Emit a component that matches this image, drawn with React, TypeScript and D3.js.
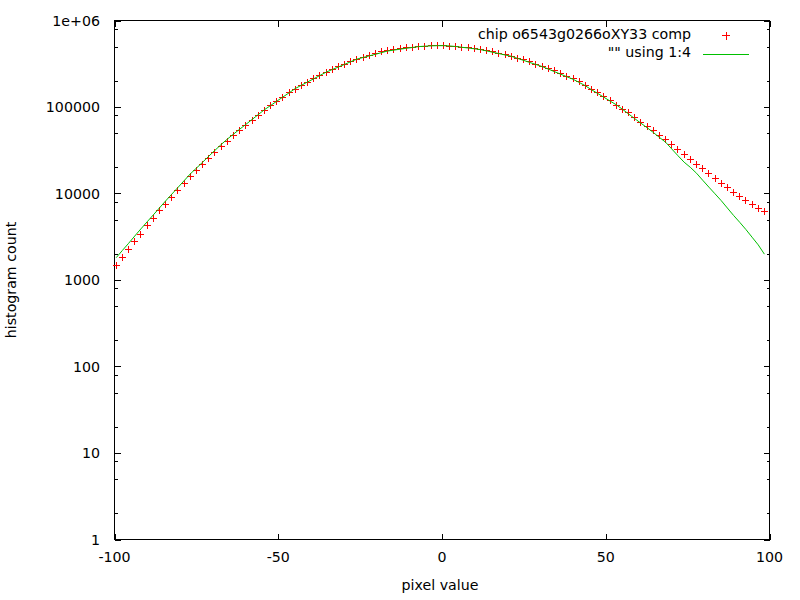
import * as d3 from 'd3';

// bin centres (pixel value) of the histogram
const pixelValues = [
  -99.48, -97.6, -95.71, -93.83, -91.94, -90.06, -88.17, -86.29, -84.4, -82.52,
  -80.63, -78.75, -76.86, -74.98, -73.09, -71.21, -69.32, -67.44, -65.55, -63.67,
  -61.78, -59.9, -58.01, -56.13, -54.24, -52.36, -50.47, -48.59, -46.7, -44.82,
  -42.93, -41.05, -39.16, -37.28, -35.39, -33.51, -31.62, -29.74, -27.85, -25.97,
  -24.08, -22.2, -20.31, -18.43, -16.54, -14.66, -12.77, -10.89, -9.0, -7.12,
  -5.23, -3.35, -1.46, 0.42, 2.31, 4.19, 6.08, 7.96, 9.85, 11.73,
  13.62, 15.5, 17.39, 19.27, 21.16, 23.04, 24.93, 26.81, 28.7, 30.58,
  32.47, 34.35, 36.24, 38.12, 40.01, 41.89, 43.78, 45.66, 47.55, 49.43,
  51.32, 53.2, 55.09, 56.97, 58.86, 60.74, 62.63, 64.51, 66.4, 68.28,
  70.17, 72.05, 73.94, 75.82, 77.71, 79.59, 81.48, 83.36, 85.25, 87.13,
  89.02, 90.9, 92.79, 94.67, 96.56, 98.44,
];

// "chip o6543g0266oXY33 comp" (red crosses)
const chipCounts = [
  1485, 1822, 2254, 2811, 3360, 4223, 5143, 6362, 7521, 8991,
  10830, 12910, 15550, 18440, 21630, 25580, 29770, 34550, 39470, 46300,
  52890, 61070, 69010, 78790, 90030, 102800, 115600, 129650, 145300, 160400,
  178400, 193200, 213200, 230900, 250000, 273000, 290200, 309400, 335100, 356200,
  368700, 388900, 414500, 432500, 444200, 461100, 473500, 481200, 490200, 499400,
  503400, 507500, 512900, 507500, 503400, 499400, 490200, 481200, 473500, 461100,
  448900, 432500, 417800, 403600, 385800, 365900, 349600, 331500, 311900, 293300,
  278200, 260900, 240900, 226600, 210900, 196900, 178400, 159500, 146100, 133100,
  117500, 105300, 94200, 85350, 76550, 66640, 59930, 53590, 47170, 41840,
  36930, 32320, 28460, 24710, 21630, 19450, 17030, 14910, 13050, 11600,
  10270, 9307, 8300, 7461, 6766, 6131,
];

// "" using 1:4 (green line)
const column4Counts = [
  1812, 2195, 2652, 3220, 3899, 4697, 5644, 6800, 8194, 9815,
  11730, 14060, 16850, 19660, 23000, 26980, 31570, 36830, 42530, 48570,
  55340, 62860, 71610, 81560, 92940, 103900, 116500, 130300, 145700, 163400,
  178400, 194700, 212100, 231500, 252700, 270900, 290200, 311100, 334200, 358100,
  373700, 389900, 406800, 425700, 444200, 455000, 466000, 477300, 487500, 499400,
  504700, 508800, 511500, 511500, 507500, 500700, 490200, 481200, 471000, 461100,
  445400, 429100, 414500, 399400, 385800, 364900, 345900, 327100, 310200, 293300,
  274500, 256100, 239700, 223700, 209300, 192200, 176000, 158200, 143400, 129650,
  117200, 106200, 94190, 83130, 73360, 64930, 57590, 50820, 44480, 39150,
  32680, 27340, 23000, 20080, 17160, 14250, 11860, 9920, 8279, 6800,
  5585, 4648, 3838, 3127, 2548, 1990,
];

const xTicks = [-100, -50, 0, 50, 100];
const yTicks = [1, 10, 100, 1000, 10000, 100000, 1000000];
const yTickLabels = ['1', '10', '100', '1000', '10000', '100000', '1e+06'];
const yMinorSteps = [2, 5, 8];

const legendLabels = ['chip o6543g0266oXY33 comp', '"" using 1:4'];

export default function App() {
  const width = 800;
  const height = 600;
  const left = 114.5, right = 769.5, top = 20.5, bottom = 539.5;
  const font = "'DejaVu Sans', sans-serif";

  const x = d3.scaleLinear().domain([-100, 100]).range([left, right]);
  const y = d3.scaleLog().domain([1, 1e6]).range([bottom, top]);

  const minorTicks = yTicks.slice(0, -1).flatMap(d => yMinorSteps.map(m => d * m));

  const line = d3.line<number>()
    .x((_, i) => x(pixelValues[i]))
    .y(d => y(d));

  const majorLen = 6;
  const minorLen = 3;
  const px = (v: number) => Math.round(v) + 0.5;

  return (
    <svg width={width} height={height} style={{ position: 'absolute', left: 0, top: 0, background: '#fff' }}
      fontFamily={font} fontSize={14.2}>
      <rect x={0} y={0} width={width} height={height} fill="#fff" />

      {/* y ticks, left and right */}
      <g stroke="#000" strokeWidth={1} shapeRendering="crispEdges">
        {yTicks.map(t => (
          <g key={'ym' + t}>
            <line x1={left} x2={left + majorLen} y1={px(y(t))} y2={px(y(t))} />
            <line x1={right} x2={right - majorLen} y1={px(y(t))} y2={px(y(t))} />
          </g>
        ))}
        {minorTicks.map(t => (
          <g key={'yn' + t}>
            <line x1={left} x2={left + minorLen} y1={px(y(t))} y2={px(y(t))} />
            <line x1={right} x2={right - minorLen} y1={px(y(t))} y2={px(y(t))} />
          </g>
        ))}
        {xTicks.map(t => (
          <g key={'x' + t}>
            <line x1={px(x(t))} x2={px(x(t))} y1={bottom} y2={bottom - majorLen} />
            <line x1={px(x(t))} x2={px(x(t))} y1={top} y2={top + majorLen} />
          </g>
        ))}
        <rect x={left} y={top} width={right - left} height={bottom - top} fill="none" />
      </g>

      {/* tick labels */}
      <g fill="#000">
        {yTicks.map((t, i) => (
          <text key={'yl' + t} x={100} y={y(t)} dy="0.36em" textAnchor="end">{yTickLabels[i]}</text>
        ))}
        {xTicks.map(t => (
          <text key={'xl' + t} x={x(t)} y={562} textAnchor="middle">{t}</text>
        ))}
        <text x={440} y={590} textAnchor="middle">pixel value</text>
        <text transform="translate(16,280) rotate(-90)" textAnchor="middle">histogram count</text>
      </g>

      {/* red crosses */}
      <g stroke="#ff0000" strokeWidth={1} shapeRendering="crispEdges">
        {chipCounts.map((c, i) => {
          const cx = px(x(pixelValues[i]) - 0.5);
          const cy = px(y(c) - 0.5);
          return (
            <path key={i} d={`M${cx - 3.5},${cy}H${cx + 3.5}M${cx},${cy - 3.5}V${cy + 3.5}`} />
          );
        })}
      </g>

      {/* green line */}
      <path d={line(column4Counts) || ''} fill="none" stroke="#00c000" strokeWidth={1} />

      {/* legend */}
      <g fill="#000">
        <text x={691} y={39} textAnchor="end">{legendLabels[0]}</text>
        <text x={691} y={57} textAnchor="end">{legendLabels[1]}</text>
      </g>
      <path d="M722,35.5H730M726.5,31.5V39.5" stroke="#ff0000" strokeWidth={1} shapeRendering="crispEdges" />
      <line x1={703} x2={749} y1={54.5} y2={54.5} stroke="#00c000" strokeWidth={1} shapeRendering="crispEdges" />
    </svg>
  );
}
